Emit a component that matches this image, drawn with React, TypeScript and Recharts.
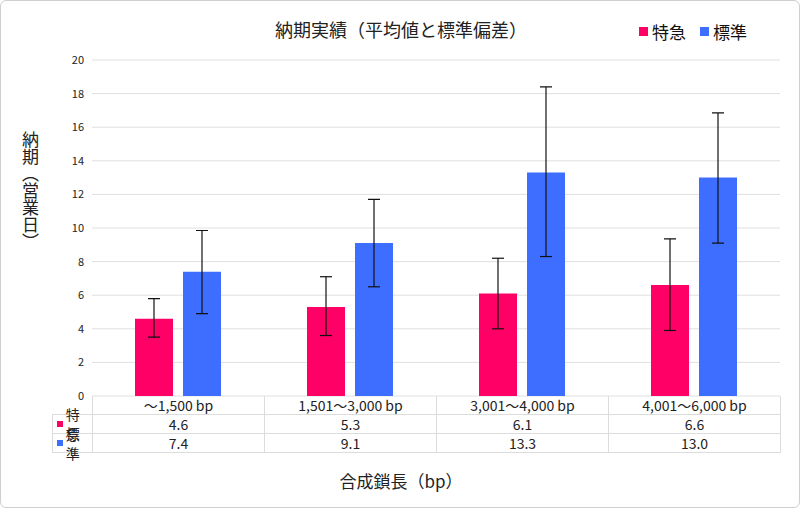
import React from 'react';
import { BarChart, Bar, XAxis, YAxis, CartesianGrid, ErrorBar } from 'recharts';

const categories = ['～1,500 bp', '1,501～3,000 bp', '3,001～4,000 bp', '4,001～6,000 bp'];
const expressValues = [4.6, 5.3, 6.1, 6.6];
const expressLow = [3.5, 3.6, 4.0, 3.9];
const expressHigh = [5.8, 7.1, 8.2, 9.35];
const standardValues = [7.4, 9.1, 13.3, 13.0];
const standardLow = [4.9, 6.5, 8.3, 9.1];
const standardHigh = [9.85, 11.7, 18.4, 16.85];
const yTicks = [0, 2, 4, 6, 8, 10, 12, 14, 16, 18, 20];

const PINK = '#FF0066';
const BLUE = '#3D6EFF';
const FONT = '"Noto Sans CJK JP", "Noto Sans", sans-serif';

const data = categories.map((c, i) => ({
  name: c,
  express: expressValues[i],
  expressErr: [expressValues[i] - expressLow[i], expressHigh[i] - expressValues[i]],
  standard: standardValues[i],
  standardErr: [standardValues[i] - standardLow[i], standardHigh[i] - standardValues[i]],
}));

const PLOT_L = 91;
const PLOT_R = 779;
const COL_W = (PLOT_R - PLOT_L) / categories.length;
const line = '1px solid #dcdcdc';

const cell = (left: number, top: number, width: number, height: number, extra: any = {}) => ({
  position: 'absolute' as const, left, top, width, height, boxSizing: 'border-box' as const,
  display: 'flex', alignItems: 'center', justifyContent: 'center', fontSize: 14, color: '#222', ...extra,
});

const App: React.FC = () => {
  const rows = [
    { label: '特急', color: PINK, values: expressValues },
    { label: '標準', color: BLUE, values: standardValues },
  ];
  return (
    <div style={{ position: 'absolute', left: 0, top: 0, width: 800, height: 508, background: '#fff', fontFamily: FONT, border: '1px solid #cfcfcf', borderRadius: 6, boxSizing: 'border-box', overflow: 'hidden' }}>
      <BarChart width={800} height={508} data={data} margin={{ top: 59, right: 21, bottom: 113, left: 51 }} barCategoryGap="25%" barGap={10}>
        <CartesianGrid vertical={false} stroke="#e0e0e0" />
        <XAxis dataKey="name" hide />
        <YAxis width={40} domain={[0, 20]} ticks={yTicks} axisLine={false} tickLine={false} tick={{ fontSize: 11, fill: '#222' }} />
        <Bar dataKey="express" fill={PINK} isAnimationActive={false}>
          <ErrorBar dataKey="expressErr" stroke="#111" strokeWidth={1.2} width={6} />
        </Bar>
        <Bar dataKey="standard" fill={BLUE} isAnimationActive={false}>
          <ErrorBar dataKey="standardErr" stroke="#111" strokeWidth={1.2} width={6} />
        </Bar>
      </BarChart>
      <div style={{ position: 'absolute', left: 0, top: 15, width: 800, textAlign: 'center', fontSize: 18, color: '#222' }}>納期実績（平均値と標準偏差）</div>
      <div style={{ position: 'absolute', left: 638, top: 18, display: 'flex', alignItems: 'center', fontSize: 17, color: '#111' }}>
        <span style={{ width: 9, height: 9, background: PINK, marginRight: 4 }} />特急
        <span style={{ width: 9, height: 9, background: BLUE, marginLeft: 14, marginRight: 4 }} />標準
      </div>
      <div style={{ position: 'absolute', left: 18, top: 130, width: 24, fontSize: 17, color: '#222', writingMode: 'vertical-rl' }}>納期（営業日）</div>
      {categories.map((c, i) => (
        <div key={c} style={cell(PLOT_L + i * COL_W, 395, COL_W + 1, 19, { borderLeft: line, borderRight: line, borderBottom: line })}>{c}</div>
      ))}
      {rows.map((r, ri) => (
        <React.Fragment key={r.label}>
          <div style={cell(51, 413 + ri * 19, PLOT_L - 51 + 1, 20, { border: line, justifyContent: 'flex-start', paddingLeft: 4 })}>
            <span style={{ width: 6, height: 6, background: r.color, marginRight: 3 }} />{r.label}
          </div>
          {r.values.map((v, i) => (
            <div key={i} style={cell(PLOT_L + i * COL_W, 413 + ri * 19, COL_W + 1, 20, { border: line })}>{v.toFixed(1)}</div>
          ))}
        </React.Fragment>
      ))}
      <div style={{ position: 'absolute', left: 0, top: 467, width: 800, textAlign: 'center', fontSize: 17, color: '#222' }}>合成鎖長（bp）</div>
    </div>
  );
};

export default App;
